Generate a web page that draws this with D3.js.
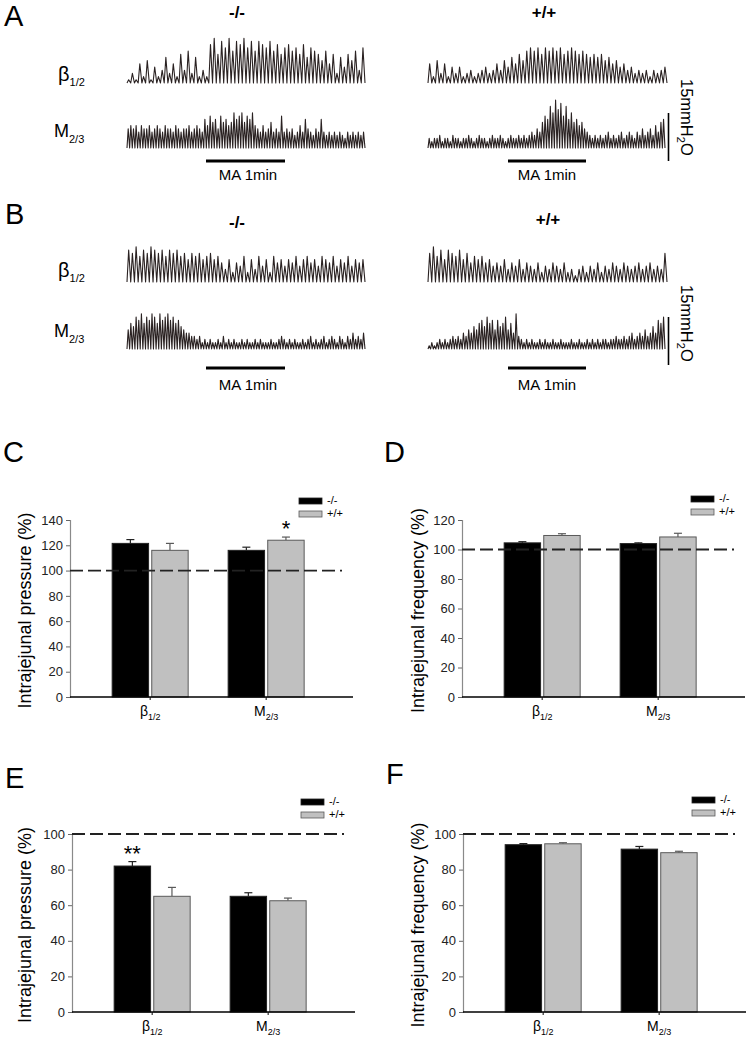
<!DOCTYPE html>
<html>
<head>
<meta charset="utf-8">
<script src="https://cdn.jsdelivr.net/npm/d3@7"></script>
<style>
  body { margin: 0; background: #fff; }
  svg { display: block; font-family: "Liberation Sans", Arial, sans-serif; }
</style>
</head>
<body>
<svg width="750" height="1041"></svg>
<script>
const svg = d3.select("svg");

// ---- trace data: peak height of each contraction (mmH2O) ----
const aKoBeta = [1,3,1,6,2,7,1,5,2,4,8,3,6,2,9,4,10,3,8,2,4,2,
  12,14,9,13,11,14,10,13,12,14,11,13,10,13,12,11,13,10,12,9,11,12,10,11,9,12,8,11,10,9,
  7,10,6,9,3,8,5,9,7,10,4,11];
const aWtBeta = [6,2,7,3,6,2,5,3,5,2,3,4,2,3,4,5,3,4,6,4,7,5,8,6,9,7,10,11,10,11,9,11,10,11,10,11,
  9,10,11,10,9,10,9,8,9,8,9,7,8,6,7,5,6,4,5,3,4,3,4,2,4,3,4,5];
const aKoM = [6,7,6,7,5,7,6,6,7,5,6,7,6,5,7,6,6,5,7,6,5,6,6,7,5,6,7,6,5,
  9,7,10,8,9,6,10,8,9,7,8,11,9,10,11,8,10,9,11,7,
  6,5,7,5,6,8,5,6,5,10,5,6,5,6,4,5,7,5,9,6,5,4,6,5,9,5,4,5,4,5,4,5,4,3,5,4,5,4,5,4,5];
const aWtM = [3,2,3,3,4,2,3,3,2,4,3,3,2,3,3,4,3,2,3,4,3,3,2,3,4,3,3,4,3,2,3,4,3,3,4,3,4,3,4,5,4,6,5,
  8,10,9,13,11,15,12,14,10,13,9,11,8,9,7,8,6,5,
  4,3,4,3,4,3,4,5,3,4,3,4,5,3,4,5,4,3,5,4,6,4,5,6,4,7,5,8,9];
const bKoBeta = [10,9,11,8,10,9,11,10,9,10,8,10,9,10,8,9,7,9,8,9,7,8,9,7,8,6,
  4,7,3,6,5,8,3,7,4,8,5,7,3,8,6,7,
  5,7,6,8,5,7,8,6,7,5,8,7,6,8,5,7,6,8,5,7,6,7];
const bKoM = [6,8,7,10,9,11,8,10,9,11,10,8,11,9,10,11,9,10,8,9,
  7,6,5,5,4,4,3,4,
  2,3,2,3,2,2,3,2,4,2,3,2,3,2,2,3,2,3,2,2,3,2,3,2,2,2,3,2,2,3,4,3,2,3,2,3,2,2,3,2,
  3,4,2,3,2,3,4,2,3,4,3,2,4,3,2,4,3,5,3,4,3,5];
const bWtBeta = [9,11,8,10,7,10,9,8,10,7,9,6,8,7,8,6,7,5,
  6,5,7,4,6,5,7,4,6,5,4,6,3,5,4,6,5,4,6,3,4,2,
  4,5,3,5,4,6,3,5,4,6,5,4,6,5,4,5,6,4,5,6,4,5,4,9];
const bWtM = [1,2,1,2,3,2,3,2,3,4,3,4,3,5,4,6,5,7,6,8,9,7,10,8,9,6,9,7,8,10,6,8,5,11,4,
  3,2,3,2,3,2,2,3,2,3,2,2,3,2,2,3,2,2,2,3,2,2,3,2,2,3,2,3,2,3,2,3,3,2,3,3,4,3,3,4,3,4,5,3,4,
  5,4,6,4,5,7,5,9,8,10];

// ---- bar data (% of baseline) ----
const groupBase = ["β", "M"];
const groupSub = ["1/2", "2/3"];
const genotypes = ["-/-", "+/+"];

const cKo = [121.5, 116], cKoErr = [3, 2.5];
const cWt = [116, 124], cWtErr = [5.5, 2.5];
const dKo = [104.5, 104], dKoErr = [0.8, 0.5];
const dWt = [109.5, 108.5], dWtErr = [1.2, 2.5];
const eKo = [82, 65], eKoErr = [2.5, 2];
const eWt = [65, 62.5], eWtErr = [5, 1.5];
const fKo = [94, 91.5], fKoErr = [0.6, 1.5];
const fWt = [94.5, 89.5], fWtErr = [0.6, 0.8];

const ticks140 = [0, 20, 40, 60, 80, 100, 120, 140];
const ticks120 = [0, 20, 40, 60, 80, 100, 120];
const ticks100 = [0, 20, 40, 60, 80, 100];

const traceColor = "#2a2222";

// panel letters
[["A", 4, 26], ["B", 5, 224], ["C", 3, 462], ["D", 384, 462], ["E", 5, 788], ["F", 386, 784]]
  .forEach(([t, x, y]) => {
    svg.append("text").attr("x", x).attr("y", y).attr("font-size", 29).text(t);
  });

function subText(g, x, y, base, sub, size, subSize, dy, anchor) {
  const t = g.append("text").attr("x", x).attr("y", y)
    .attr("font-size", size).attr("text-anchor", anchor || "start");
  t.append("tspan").text(base);
  t.append("tspan").attr("font-size", subSize).attr("dy", dy).text(sub);
  return t;
}

function drawTrace(values, x1, x2, base) {
  const x = d3.scaleLinear().domain([0, values.length]).range([x1, x2]);
  const y = d3.scaleLinear().domain([0, 15]).range([base, base - 48]);
  const pts = [];
  values.forEach((v, i) => {
    pts.push([i, 0]);
    pts.push([i + 0.45, v]);
  });
  pts.push([values.length, 0]);
  svg.append("path")
    .attr("d", d3.line().x(d => x(d[0])).y(d => y(d[1]))(pts))
    .attr("fill", "none")
    .attr("stroke", traceColor)
    .attr("stroke-width", 1.1)
    .attr("stroke-linejoin", "round");
}

function drawTracePanel(top, traces) {
  // top = y offset of the panel (A: 0, B: 200)
  const hdr = top === 0 ? [18, 18] : [228, 225];
  svg.append("text").attr("x", 237).attr("y", hdr[0]).attr("font-size", 17)
    .attr("font-weight", 600).attr("text-anchor", "middle").text(genotypes[0]);
  svg.append("text").attr("x", top === 0 ? 544 : 548).attr("y", hdr[1]).attr("font-size", 17)
    .attr("font-weight", 600).attr("text-anchor", "middle").text(genotypes[1]);

  const betaY = top === 0 ? 81 : 277;
  const mY = top === 0 ? 137 : 337;
  subText(svg, 58, betaY, groupBase[0], groupSub[0], 20, 11, 5);
  subText(svg, 54, mY, groupBase[1], groupSub[1], 18, 11, 6);

  const bBeta = top === 0 ? 83 : 282;
  const bM = top === 0 ? 148 : 349;
  drawTrace(traces[0], 127, 365, bBeta);
  drawTrace(traces[1], 127, 365, bM);
  drawTrace(traces[2], 428, 667, bBeta);
  drawTrace(traces[3], 428, 665, bM);

  // MA 1 min bars
  const barY = top === 0 ? 161 : 368;
  const txtY = top === 0 ? 180 : 390;
  [[206, 285, 248], [508, 586, 547]].forEach(([a, b, c]) => {
    svg.append("line").attr("x1", a).attr("x2", b).attr("y1", barY).attr("y2", barY)
      .attr("stroke", "#000").attr("stroke-width", 2.8);
    svg.append("text").attr("x", c).attr("y", txtY).attr("font-size", 15)
      .attr("text-anchor", "middle").text("MA 1min");
  });

  // 15 mmH2O scale bar
  const sTop = top === 0 ? 113 : 317;
  svg.append("line").attr("x1", 668.5).attr("x2", 668.5).attr("y1", sTop).attr("y2", sTop + 48)
    .attr("stroke", "#000").attr("stroke-width", 1.6);
  const st = svg.append("text")
    .attr("transform", `translate(681,${top === 0 ? 79 : 285}) rotate(90)`)
    .attr("font-size", 16.5);
  st.append("tspan").text("15mmH");
  st.append("tspan").attr("font-size", 11).attr("dy", 4).text("2");
  st.append("tspan").attr("dy", -4).text("O");
}

drawTracePanel(0, [aKoBeta, aKoM, aWtBeta, aWtM]);
drawTracePanel(200, [bKoBeta, bKoM, bWtBeta, bWtM]);

function drawBarChart(cfg) {
  const g = svg.append("g");
  const y = d3.scaleLinear().domain([0, cfg.max]).range([cfg.yBase, cfg.yTop]);
  const x = d3.scalePoint().domain(groupBase).range([cfg.x0, cfg.x0 + 283])
    .padding(0.72).align(0.48);
  const inner = d3.scaleBand().domain(genotypes).range([-38, 38]).paddingInner(0.08);

  // y axis
  const ax = g.append("g").attr("transform", `translate(${cfg.x0},0)`)
    .call(d3.axisLeft(y).tickValues(cfg.ticks).tickSize(4).tickPadding(3));
  ax.select(".domain").attr("stroke", "#8a8a8a").attr("stroke-width", 1.2);
  ax.selectAll(".tick line").attr("stroke", "#666");
  ax.selectAll(".tick text").attr("font-size", 13).attr("fill", "#222")
    .attr("font-family", "Liberation Sans, Arial, sans-serif");

  // y title
  g.append("text")
    .attr("transform", `translate(${cfg.titleX},${(cfg.yBase + cfg.yTop) / 2 + 2}) rotate(-90)`)
    .attr("text-anchor", "middle").attr("font-size", 18).text(cfg.title);

  const series = [
    { key: genotypes[0], vals: cfg.ko, err: cfg.koErr, fill: "#000", stroke: "#222" },
    { key: genotypes[1], vals: cfg.wt, err: cfg.wtErr, fill: "#c0c0c0", stroke: "#5a5a5a" }
  ];

  series.forEach(s => {
    groupBase.forEach((grp, i) => {
      const left = x(grp) + inner(s.key);
      const w = inner.bandwidth();
      const cx = left + w / 2;
      // error bar (upper only)
      g.append("line").attr("x1", cx).attr("x2", cx)
        .attr("y1", y(s.vals[i])).attr("y2", y(s.vals[i] + s.err[i]))
        .attr("stroke", s.stroke).attr("stroke-width", 1.2);
      g.append("line").attr("x1", cx - 4).attr("x2", cx + 4)
        .attr("y1", y(s.vals[i] + s.err[i])).attr("y2", y(s.vals[i] + s.err[i]))
        .attr("stroke", s.stroke).attr("stroke-width", 1.2);
      g.append("rect").attr("x", left).attr("y", y(s.vals[i]))
        .attr("width", w).attr("height", y(0) - y(s.vals[i]))
        .attr("fill", s.fill).attr("stroke", s.stroke).attr("stroke-width", 1);
    });
  });

  // reference line at 100 %
  g.append("line").attr("x1", cfg.x0).attr("x2", cfg.x0 + 272)
    .attr("y1", y(100)).attr("y2", y(100))
    .attr("stroke", "#222").attr("stroke-width", 1.8).attr("stroke-dasharray", "13,5");

  // x axis
  g.append("line").attr("x1", cfg.x0).attr("x2", cfg.x0 + 283)
    .attr("y1", y(0)).attr("y2", y(0)).attr("stroke", "#000").attr("stroke-width", 1.6);
  groupBase.forEach((grp, i) => {
    g.append("line").attr("x1", x(grp)).attr("x2", x(grp))
      .attr("y1", y(0)).attr("y2", y(0) + 3).attr("stroke", "#000");
    subText(g, x(grp), y(0) + cfg.labelDy, groupBase[i], groupSub[i], 14, 9, 4, "middle");
  });

  // legend
  series.forEach((s, i) => {
    g.append("rect").attr("x", cfg.x0 + 229).attr("y", cfg.legendY + i * 13)
      .attr("width", 23).attr("height", 6)
      .attr("fill", s.fill).attr("stroke", s.stroke).attr("stroke-width", 0.8);
    g.append("text").attr("x", cfg.x0 + 257).attr("y", cfg.legendY + i * 13 + 6)
      .attr("font-size", 11).text(s.key);
  });

  // significance marks
  if (cfg.star) {
    const s = series[cfg.star.series];
    const cx = x(groupBase[cfg.star.group]) + inner(s.key) + inner.bandwidth() / 2;
    g.append("text").attr("x", cx).attr("y", y(s.vals[cfg.star.group] + s.err[cfg.star.group]) - 1)
      .attr("text-anchor", "middle").attr("font-size", 22).text(cfg.star.text);
  }
}

drawBarChart({ x0: 70, yBase: 697, yTop: 520, max: 140, ticks: ticks140,
  ko: cKo, koErr: cKoErr, wt: cWt, wtErr: cWtErr,
  title: "Intrajejunal pressure (%)", titleX: 31, legendY: 498, labelDy: 19,
  star: { series: 1, group: 1, text: "*" } });
drawBarChart({ x0: 462, yBase: 697, yTop: 520, max: 120, ticks: ticks120,
  ko: dKo, koErr: dKoErr, wt: dWt, wtErr: dWtErr,
  title: "Intrajejunal frequency (%)", titleX: 424, legendY: 496, labelDy: 19 });
drawBarChart({ x0: 72, yBase: 1012, yTop: 834, max: 100, ticks: ticks100,
  ko: eKo, koErr: eKoErr, wt: eWt, wtErr: eWtErr,
  title: "Intrajejunal pressure (%)", titleX: 31, legendY: 799, labelDy: 19,
  star: { series: 0, group: 0, text: "**" } });
drawBarChart({ x0: 463, yBase: 1012, yTop: 834, max: 100, ticks: ticks100,
  ko: fKo, koErr: fKoErr, wt: fWt, wtErr: fWtErr,
  title: "Intrajejunal frequency (%)", titleX: 424, legendY: 797, labelDy: 19 });
</script>
</body>
</html>
